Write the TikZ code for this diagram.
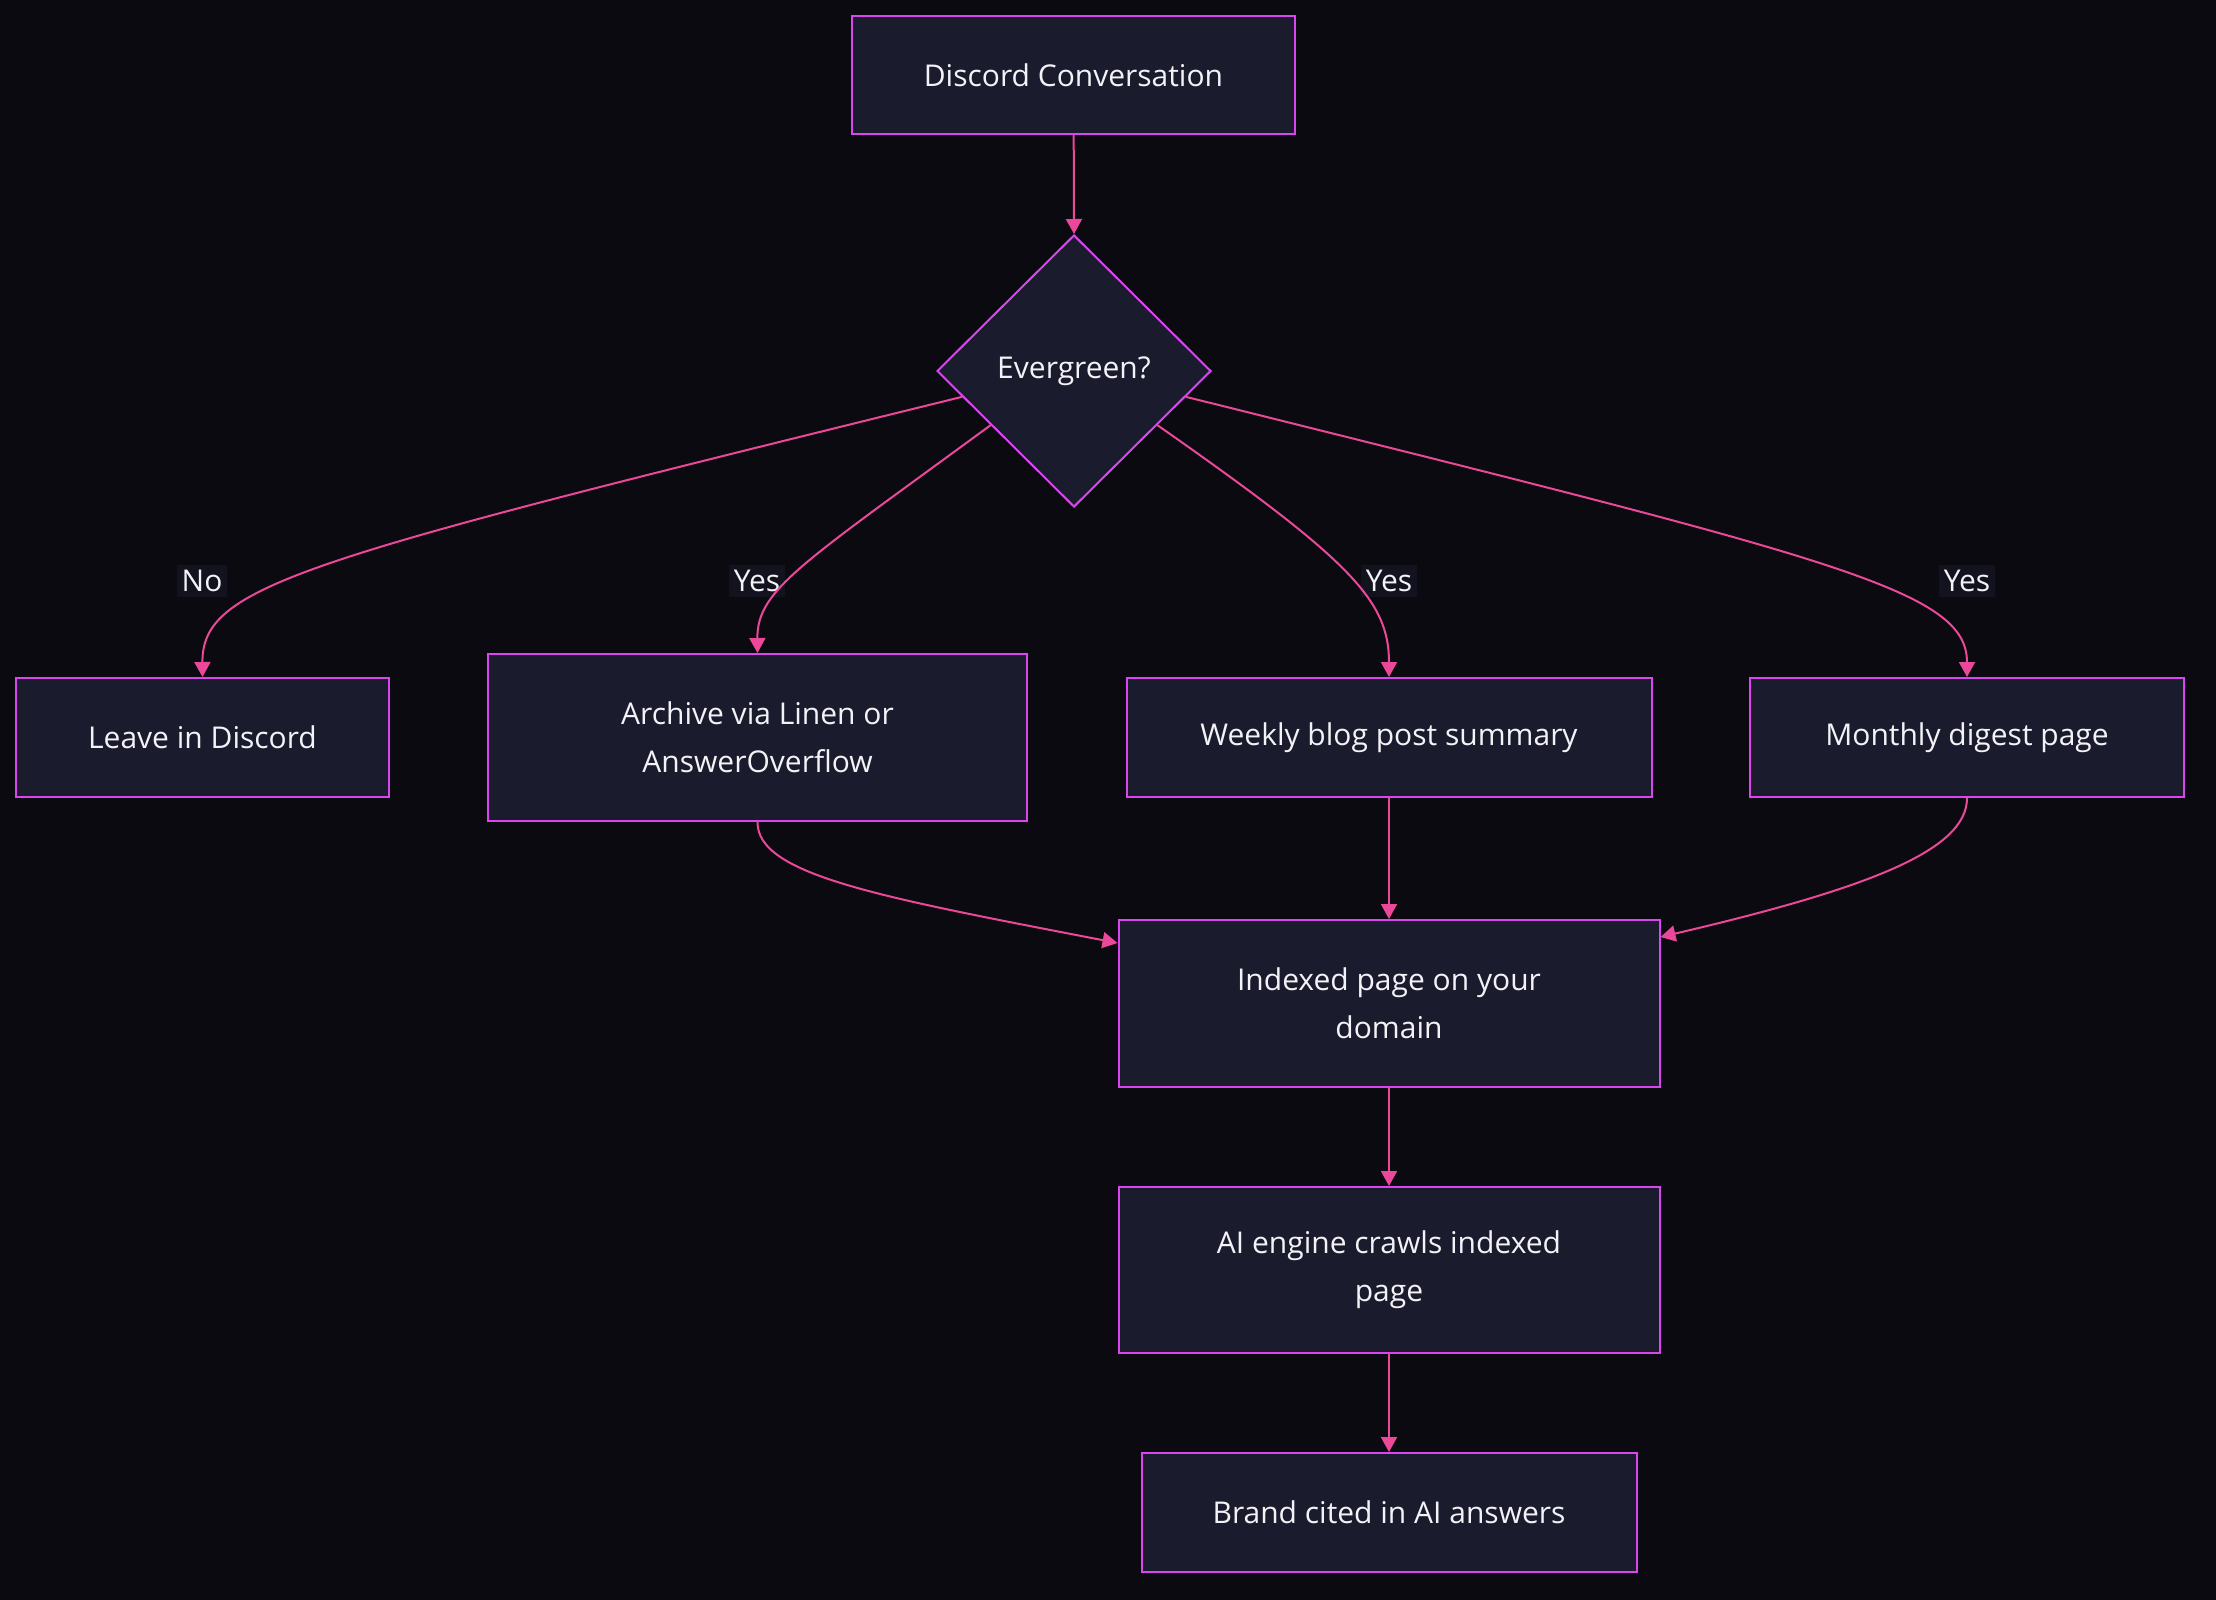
\documentclass[tikz,border=0pt]{standalone}
\usepackage{fontspec}
\setmainfont{Open Sans}
\usetikzlibrary{shapes.geometric, arrows.meta, calc}
\definecolor{bgdark}{HTML}{0A0A10}
\definecolor{boxfill}{HTML}{1B1B2E}
\definecolor{boxline}{HTML}{D946EF}
\definecolor{flowpink}{HTML}{EC4899}
\definecolor{lblfill}{HTML}{13131F}
\definecolor{txtwhite}{HTML}{F2F2F7}
\tikzset{
  stepbox/.style={draw=boxline, fill=boxfill, line width=1pt, text=txtwhite, align=center, inner sep=0pt, font=\fontsize{15}{24}\selectfont},
  decision/.style={diamond, aspect=1, draw=boxline, fill=boxfill, line width=1pt, text=txtwhite, inner sep=0pt, minimum width=137pt, minimum height=136pt, font=\fontsize{15}{24}\selectfont},
  flow/.style={draw=flowpink, line width=1pt, -{Triangle[length=7.5pt,width=8pt]}},
  edgelbl/.style={fill=lblfill, text=txtwhite, inner sep=2.5pt, font=\fontsize{15}{24}\selectfont}
}

\begin{document}
\begin{tikzpicture}[x=0.5pt, y=-0.5pt]
            \fill[bgdark] (0,0) rectangle (2216,1600);% background and margins

            \node[stepbox, minimum width=221.5pt, minimum height=59pt] (conv) at (1073.5,75) {Discord Conversation};
            \node[decision] (evg) at (1074,371) {Evergreen?};
            \node[stepbox, minimum width=186.5pt, minimum height=59.5pt] (leave) at (202.5,737.5) {Leave in Discord};
            \node[stepbox, minimum width=269.5pt, minimum height=83.5pt] (archive) at (757.5,737.5) {Archive via Linen or\\AnswerOverflow};
            \node[stepbox, minimum width=262.5pt, minimum height=59.5pt] (weekly) at (1389,737.5) {Weekly blog post summary};
            \node[stepbox, minimum width=217pt, minimum height=59.5pt] (monthly) at (1967,737.5) {Monthly digest page};
            \node[stepbox, minimum width=270.5pt, minimum height=83.5pt] (indexed) at (1389,1003.5) {Indexed page on your\\domain};
            \node[stepbox, minimum width=270.5pt, minimum height=83pt] (crawl) at (1389,1270) {AI engine crawls indexed\\page};
            \node[stepbox, minimum width=247.5pt, minimum height=59.5pt] (brand) at (1389,1512.5) {Brand cited in AI answers};

            % edge labels
            \node[edgelbl] (lblno) at (202,581) {No};
            \node[edgelbl] (lblarch) at (757,581) {Yes};
            \node[edgelbl] (lblweek) at (1389,581) {Yes};
            \node[edgelbl] (lblmonth) at (1967,581) {Yes};

            \draw[flow] (conv) -- (evg.north);
            \draw[flow] (evg.193) .. controls (300,560) and (202,585) .. (leave.north);
            \draw[flow] (evg.213) .. controls (800,565) and (757,590) .. (archive.north);
            \draw[flow] (evg.327) .. controls (1350,560) and (1389,600) .. (weekly.north);
            \draw[flow] (evg.347) .. controls (1840,560) and (1967,590) .. (monthly.north);

            \draw[flow] (archive.south) .. controls (757,875) and (880,897) .. ($(indexed.north west)+(0,24)$);
            \draw[flow] (weekly) -- (indexed);
            \draw[flow] (monthly.south) .. controls (1967,850) and (1870,888) .. ($(indexed.north east)+(0,18)$);
            \draw[flow] (indexed) -- (crawl);
            \draw[flow] (crawl) -- (brand);
        \end{tikzpicture}
\end{document}
